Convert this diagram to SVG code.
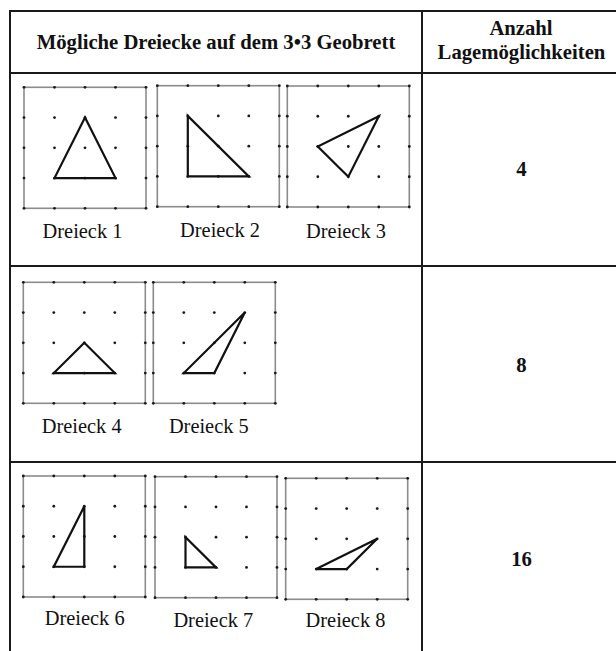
<svg xmlns="http://www.w3.org/2000/svg" xmlns:xlink="http://www.w3.org/1999/xlink" width="616" height="651" viewBox="0 0 616 651">
<style>
.tbl{stroke:#1a1a1a;stroke-width:2;fill:none}
.frame{stroke:#8c8c8c;stroke-width:1.6;fill:none}
.dot{fill:#1a1a1a}
.tri{stroke:#111;stroke-width:2.2;fill:none;stroke-linejoin:miter}
.lbl{font-family:"Liberation Serif","Times New Roman",serif;font-size:20.4px;fill:#111;text-anchor:middle}
.hd{font-family:"Liberation Serif","Times New Roman",serif;font-size:20.7px;font-weight:bold;fill:#111;text-anchor:middle}
</style>
<defs>
<g id="grid">
<rect class="frame" x="0" y="0" width="122" height="121"/>
<g class="dot">
<circle cx="0" cy="0" r="1.4"/><circle cx="30.5" cy="0" r="1.4"/><circle cx="61" cy="0" r="1.4"/><circle cx="91.5" cy="0" r="1.4"/><circle cx="122" cy="0" r="1.4"/>
<circle cx="0" cy="30.25" r="1.4"/><circle cx="30.5" cy="30.25" r="1.4"/><circle cx="61" cy="30.25" r="1.4"/><circle cx="91.5" cy="30.25" r="1.4"/><circle cx="122" cy="30.25" r="1.4"/>
<circle cx="0" cy="60.5" r="1.4"/><circle cx="30.5" cy="60.5" r="1.4"/><circle cx="61" cy="60.5" r="1.4"/><circle cx="91.5" cy="60.5" r="1.4"/><circle cx="122" cy="60.5" r="1.4"/>
<circle cx="0" cy="90.75" r="1.4"/><circle cx="30.5" cy="90.75" r="1.4"/><circle cx="61" cy="90.75" r="1.4"/><circle cx="91.5" cy="90.75" r="1.4"/><circle cx="122" cy="90.75" r="1.4"/>
<circle cx="0" cy="121" r="1.4"/><circle cx="30.5" cy="121" r="1.4"/><circle cx="61" cy="121" r="1.4"/><circle cx="91.5" cy="121" r="1.4"/><circle cx="122" cy="121" r="1.4"/>
</g>
</g>
</defs>
<rect width="616" height="651" fill="#fff"/>
<g id="table">
<line class="tbl" x1="10" y1="11" x2="616" y2="11"/>
<line class="tbl" x1="10" y1="73" x2="616" y2="73"/>
<line class="tbl" x1="10" y1="266" x2="616" y2="266"/>
<line class="tbl" x1="10" y1="462" x2="616" y2="462"/>
<line class="tbl" x1="10" y1="10" x2="10" y2="651"/>
<line class="tbl" x1="422" y1="10" x2="422" y2="651"/>
</g>
<g id="header">
<text class="hd" x="216" y="48.5">Mögliche Dreiecke auf dem 3•3 Geobrett</text>
<text class="hd" x="521" y="35">Anzahl</text>
<text class="hd" x="521.5" y="59">Lagemöglichkeiten</text>
</g>
<g id="board1" transform="translate(24,87.3)">
<use xlink:href="#grid"/>
<polygon class="tri" points="61,30.25 30.5,90.75 91.5,90.75"/>
</g>
<g id="board2" transform="translate(157.3,85.7)">
<use xlink:href="#grid"/>
<polygon class="tri" points="30.5,30.25 30.5,90.75 91.5,90.75"/>
</g>
<g id="board3" transform="translate(287.3,86)">
<use xlink:href="#grid"/>
<polygon class="tri" points="91.5,30.25 30.5,60.5 61,90.75"/>
</g>
<g id="board4" transform="translate(23.3,282.3)">
<use xlink:href="#grid"/>
<polygon class="tri" points="61,60.5 30.5,90.75 91.5,90.75"/>
</g>
<g id="board5" transform="translate(153.3,282.3)">
<use xlink:href="#grid"/>
<polygon class="tri" points="91.5,30.25 30.5,90.75 61,90.75"/>
</g>
<g id="board6" transform="translate(23.3,476)">
<use xlink:href="#grid"/>
<polygon class="tri" points="61,30.25 30.5,90.75 61,90.75"/>
</g>
<g id="board7" transform="translate(155,476.7)">
<use xlink:href="#grid"/>
<polygon class="tri" points="30.5,60.5 30.5,90.75 61,90.75"/>
</g>
<g id="board8" transform="translate(285.7,478.3)">
<use xlink:href="#grid"/>
<polygon class="tri" points="91.5,60.5 30.5,90.75 61,90.75"/>
</g>
<g id="labels">
<text class="lbl" x="82.5" y="238">Dreieck 1</text>
<text class="lbl" x="220" y="236.7">Dreieck 2</text>
<text class="lbl" x="346" y="238">Dreieck 3</text>
<text class="lbl" x="81.7" y="433">Dreieck 4</text>
<text class="lbl" x="208.8" y="432.7">Dreieck 5</text>
<text class="lbl" x="84.7" y="625">Dreieck 6</text>
<text class="lbl" x="213.3" y="626.7">Dreieck 7</text>
<text class="lbl" x="345.5" y="626.7">Dreieck 8</text>
</g>
<g id="counts">
<text class="hd" x="521.5" y="176">4</text>
<text class="hd" x="521.5" y="372">8</text>
<text class="hd" x="521.5" y="566">16</text>
</g>
</svg>
